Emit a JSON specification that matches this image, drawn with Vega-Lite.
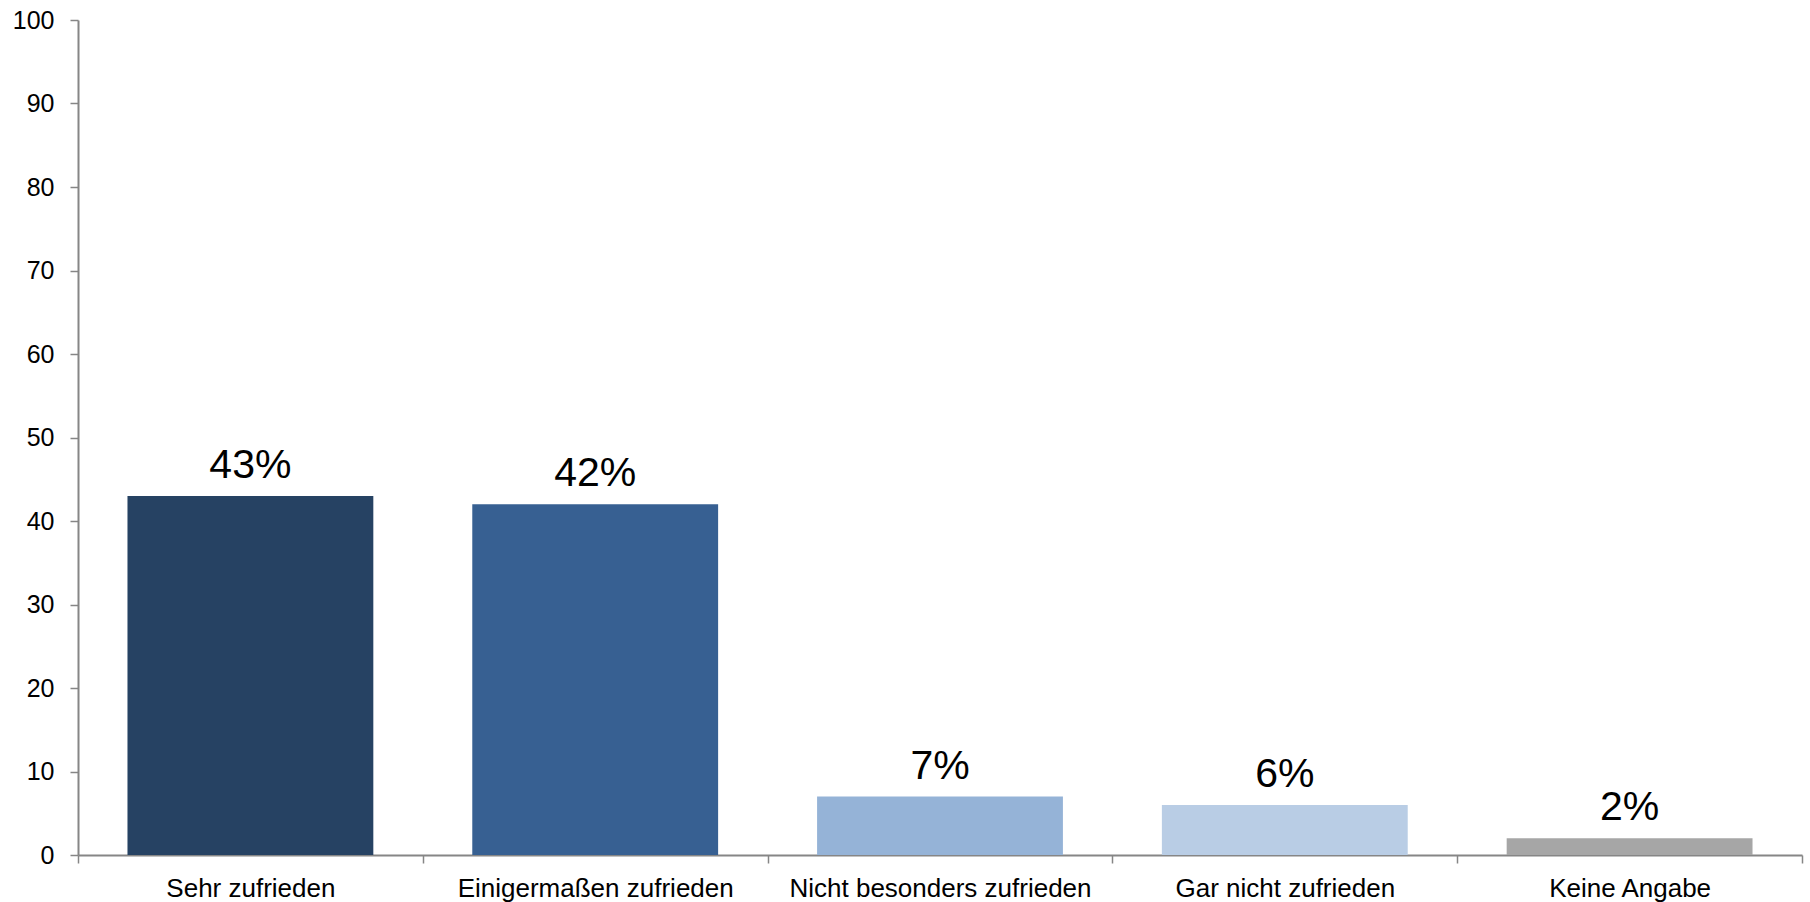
{
  "$schema": "https://vega.github.io/schema/vega-lite/v6.json",
  "width": 1724,
  "height": 835,
  "autosize": {"type": "none"},
  "padding": {"left": 78, "top": 20, "right": 8, "bottom": 47},
  "background": "white",
  "config": {
    "view": {"stroke": null},
    "font": "Liberation Sans"
  },
  "data": {
    "values": [
      {"kategorie": "Sehr zufrieden", "wert": 43, "label": "43%", "farbe": "#264263"},
      {"kategorie": "Einigermaßen zufrieden", "wert": 42, "label": "42%", "farbe": "#376092"},
      {"kategorie": "Nicht besonders zufrieden", "wert": 7, "label": "7%", "farbe": "#95B3D7"},
      {"kategorie": "Gar nicht zufrieden", "wert": 6, "label": "6%", "farbe": "#B9CDE5"},
      {"kategorie": "Keine Angabe", "wert": 2, "label": "2%", "farbe": "#A6A6A6"}
    ]
  },
  "encoding": {
    "x": {
      "field": "kategorie",
      "type": "nominal",
      "sort": null,
      "scale": {"paddingInner": 0, "paddingOuter": 0},
      "axis": {
        "title": null,
        "labelAngle": 0,
        "labelFontSize": 26,
        "labelLimit": 0,
        "labelColor": "#000000",
        "labelPadding": 12,
        "tickBand": "extent",
        "tickSize": 8,
        "tickColor": "#868686",
        "tickWidth": 1.5,
        "domainColor": "#868686",
        "domainWidth": 2
      }
    },
    "y": {
      "field": "wert",
      "type": "quantitative",
      "scale": {"domain": [0, 100], "nice": false},
      "axis": {
        "title": null,
        "values": [0, 10, 20, 30, 40, 50, 60, 70, 80, 90, 100],
        "grid": false,
        "labelFontSize": 25,
        "labelColor": "#000000",
        "labelPadding": 16,
        "tickSize": 8,
        "tickColor": "#868686",
        "tickWidth": 1.5,
        "domainColor": "#868686",
        "domainWidth": 2
      }
    }
  },
  "layer": [
    {
      "mark": {"type": "bar", "width": {"band": 0.713}},
      "encoding": {
        "color": {"field": "farbe", "type": "nominal", "scale": null, "legend": null}
      }
    },
    {
      "mark": {"type": "text", "baseline": "alphabetic", "dy": -18, "fontSize": 41, "color": "#000000"},
      "encoding": {
        "text": {"field": "label"}
      }
    }
  ]
}
